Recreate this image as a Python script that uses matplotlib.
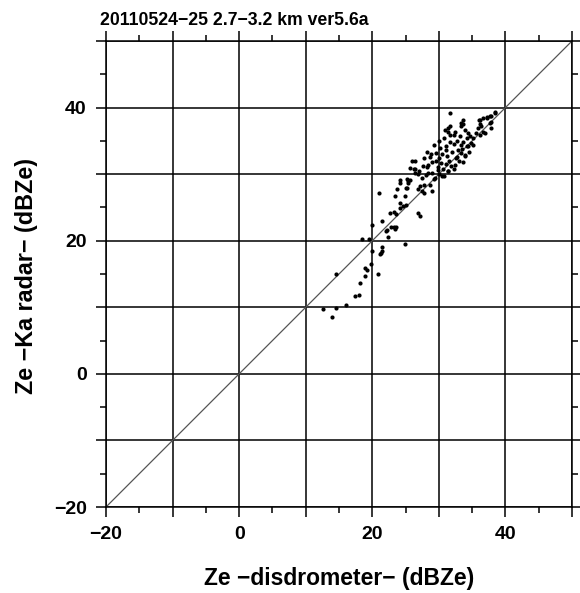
import numpy as np
import matplotlib
matplotlib.use("Agg")
from matplotlib import pyplot
from matplotlib.ticker import MultipleLocator, FuncFormatter

# Ze from the disdrometer (x) vs Ze from the Ka radar (y), dBZe
ze_disd = [
    12.6, 14.0, 14.5, 14.5, 16.1, 17.4, 18.0, 18.2, 18.9, 18.9, 19.2, 19.8, 20.8,
    20.0, 21.3, 21.4, 21.5, 21.2, 18.4, 19.5, 20.0, 21.4, 22.2, 22.8, 23.5, 22.3,
    24.9, 22.1, 23.2, 23.4, 21.0, 22.7, 23.2, 23.6, 23.4, 24.1, 24.2, 24.6, 25.0,
    24.9, 23.7, 24.1, 24.2, 25.0, 25.3, 25.6, 26.9, 27.2, 26.9, 27.4, 27.7, 28.7,
    28.9, 26.2, 25.9, 26.4, 26.8,
    25.2, 25.4, 25.2, 27.2, 27.8, 26.4, 25.7, 26.4, 27.0, 27.4, 28.4, 28.0, 29.4,
    29.2, 30.4, 30.7, 31.4, 32.4, 33.9, 33.4, 32.9, 28.2, 28.6, 29.0, 29.2, 29.6,
    30.0, 30.3, 30.6, 29.8, 30.2, 30.7, 31.0, 31.2, 31.5, 31.8, 32.0, 32.2, 31.7,
    32.2, 32.4, 31.4, 30.9, 32.6, 33.0, 33.2, 33.7, 33.4, 34.2, 34.4, 34.7, 35.2,
    35.2, 34.9, 34.2, 33.9, 31.7, 31.4, 33.4, 33.7, 33.6, 33.4, 33.9, 34.4, 31.7,
    35.9, 36.2, 36.9, 36.7, 36.2, 36.4, 36.0, 36.2, 36.7, 37.2, 37.2, 37.7, 37.9,
    38.4, 38.4, 37.9, 37.7, 37.9, 28.4, 28.8, 29.5, 30.5, 31.0, 31.6, 32.8, 30.0,
    29.8, 27.6, 27.8, 28.2, 31.4, 32.2, 31.0, 33.5, 34.6, 35.6, 29.0, 30.0, 32.8,
    33.6,
]
ze_radar = [
    9.8, 8.5, 9.9, 15.0, 10.3, 11.7, 11.9, 13.7, 14.7, 15.9, 15.6, 16.5, 15.0,
    18.4, 18.2, 18.5, 19.1, 18.0, 20.2, 20.3, 22.3, 22.9, 21.6, 22.1, 22.1, 20.5,
    19.5, 21.4, 22.1, 21.8, 27.1, 24.2, 24.3, 24.0, 26.7, 25.7, 24.9, 25.2, 25.3,
    26.7, 27.7, 28.6, 29.1, 27.9, 28.7, 29.1, 24.2, 23.7, 27.8, 27.5, 27.2, 28.4,
    27.4, 30.7, 31.9, 30.2, 30.0,
    29.2, 28.9, 27.9, 28.2, 28.4, 31.9, 30.9, 30.7, 30.5, 29.4, 30.2, 29.8, 29.4,
    29.2, 29.7, 29.7, 30.4, 31.4, 32.9, 33.2, 33.7, 33.4, 32.6, 31.8, 34.4, 33.2,
    32.4, 31.6, 30.8, 30.6, 34.0, 35.4, 33.6, 32.8, 31.9, 31.2, 33.4, 34.6, 35.9,
    35.9, 36.4, 36.9, 36.7, 32.4, 31.9, 35.7, 34.9, 34.4, 35.4, 34.2, 35.7, 35.4,
    34.4, 34.7, 34.2, 32.8, 37.3, 36.4, 37.2, 37.6, 38.2, 37.7, 36.7, 36.2, 39.2,
    36.9, 35.9, 36.2, 36.4, 37.5, 37.3, 38.1, 38.2, 38.5, 38.6, 38.5, 38.7, 38.7,
    39.2, 39.4, 37.9, 37.7, 36.9, 31.4, 33.0, 32.0, 33.0, 34.2, 34.8, 35.0, 35.0,
    31.0, 31.2, 32.4, 31.0, 30.4, 30.8, 31.5, 33.8, 33.4, 36.2, 30.2, 30.0, 32.6,
    31.8,
]

lim = (-20, 50)
one_to_one = [-20, 50]

pyplot.rcParams['font.family'] = 'Liberation Sans'
pyplot.rcParams['font.weight'] = 'bold'

fig = pyplot.figure(figsize=(5.8, 5.93), dpi=100)
ax = fig.add_axes([106/580, 1-507/593, 466/580, 466/593])

ax.plot(one_to_one, one_to_one, color='#555555', lw=0.9, zorder=2)
ax.plot(ze_disd, ze_radar, 'o', color='black', ms=3.0, mew=0, zorder=3)

ax.set_xlim(lim)
ax.set_ylim(lim)

for a in (ax.xaxis, ax.yaxis):
    a.set_major_locator(MultipleLocator(10))
    a.set_minor_locator(MultipleLocator(5))
    a.set_major_formatter(FuncFormatter(
        lambda v, p: ('%d' % v).replace('-', '\u2212') if int(round(v)) % 20 == 0 else ''))

ax.grid(True, which='major', color='black', lw=1.1, zorder=1)
ax.tick_params(which='both', direction='out', top=True, right=True, width=1.1,
               labelsize=14, colors='black')
ax.tick_params(which='major', length=7, pad=7)
ax.tick_params(which='minor', length=4)
for s in ax.spines.values():
    s.set_linewidth(1.1)

fig.text(100/580, 1-25/593, '20110524\u221225 2.7\u22123.2 km ver5.6a',
         fontsize=12.7, fontweight='bold', ha='left', va='baseline')
fig.text(339/580, 1-579/593, 'Ze \u2212disdrometer\u2212 (dBZe)',
         fontsize=16.5, fontweight='bold', ha='center', va='center')
fig.text(27/580, 1-276/593, 'Ze \u2212Ka radar\u2212 (dBZe)',
         fontsize=16.8, fontweight='bold', ha='center', va='center', rotation=90)

fig.savefig('out.png', dpi=100)
